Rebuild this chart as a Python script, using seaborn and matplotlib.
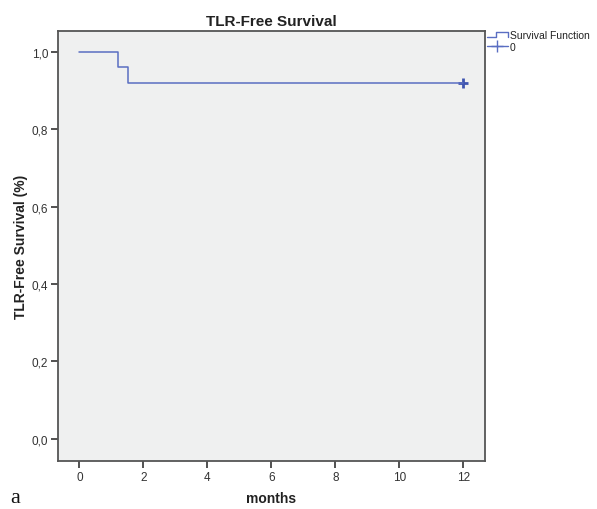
import matplotlib
matplotlib.use("Agg")
import matplotlib.pyplot as plt
import seaborn as sns
import pandas as pd
from matplotlib.lines import Line2D
from matplotlib.legend_handler import HandlerBase
from matplotlib.ticker import FuncFormatter

# data
months = [0.0, 1.22, 1.51, 12.0]
survival = [1.0, 0.96, 0.92, 0.92]
censor_months = [12.0]
censor_survival = [0.92]
x_ticks = [0, 2, 4, 6, 8, 10, 12]
y_ticks = [0.0, 0.2, 0.4, 0.6, 0.8, 1.0]

sns.set_theme(style="white")
plt.rcParams['font.family'] = ['Liberation Sans', 'DejaVu Sans']

line_color = "#5A6EC2"
fig = plt.figure(figsize=(5.97, 5.10), dpi=100)
ax = fig.add_axes([58/597, 48/510, 427/597, 430/510])
ax.set_facecolor("#EFF0F0")

df = pd.DataFrame({"months": months, "survival": survival})
sns.lineplot(data=df, x="months", y="survival", ax=ax, color=line_color,
             drawstyle="steps-post", linewidth=1.1, legend=False)
cdf = pd.DataFrame({"months": censor_months, "survival": censor_survival})
sns.scatterplot(data=cdf, x="months", y="survival", ax=ax, marker="+",
                color="#3F55B0", s=55, linewidth=2.0, legend=False)

ax.set_xlim(-0.67, 12.68)
ax.set_ylim(-0.058, 1.054)
ax.set_xticks(x_ticks)
ax.set_yticks(y_ticks)
ax.yaxis.set_major_formatter(FuncFormatter(lambda v, p: f"{v:.1f}".replace(".", ",")))
ax.tick_params(axis="both", direction="out", length=5, width=1.2, color="#333333",
               labelsize=8.5, labelcolor="#333333", bottom=True, left=True, pad=2)
for sp in ax.spines.values():
    sp.set_color("#555555")
    sp.set_linewidth(1.3)

ax.set_xlabel("months", fontsize=10, fontweight="bold", color="#222222", labelpad=6)
ax.set_ylabel("TLR-Free Survival (%)", fontsize=10, fontweight="bold", color="#222222", labelpad=3)
ax.set_title("TLR-Free Survival", fontsize=11, fontweight="bold", color="#222222", pad=4)


class StepHandler(HandlerBase):
    def create_artists(self, legend, orig_handle, xdescent, ydescent, width, height, fontsize, trans):
        x0, x1 = -xdescent, -xdescent + width
        xm = x0 + width * 0.45
        y_lo = -ydescent + height * 0.2
        y_hi = -ydescent + height * 0.8
        l = Line2D([x0, xm, xm, x1, x1], [y_lo, y_lo, y_hi, y_hi, y_lo],
                   color=orig_handle.get_color(), linewidth=1.0, transform=trans)
        return [l]


h1 = Line2D([], [], color=line_color, linewidth=1.0)
h2 = Line2D([], [], color=line_color, linewidth=1.0, marker="+", markersize=8)
leg = fig.legend([h1, h2], ["Survival Function", "0"], loc="upper left",
                 bbox_to_anchor=(487/597, 1 - 31/510), frameon=False, fontsize=7.5,
                 handlelength=2.0, handletextpad=0.2, labelspacing=0.15,
                 borderaxespad=0, borderpad=0,
                 handler_map={h1: StepHandler()})
for t in leg.get_texts():
    t.set_color("#222222")

fig.text(10/597, 1 - 499/510, "a", fontsize=16, family="Liberation Serif",
         va="center", ha="left", color="#111111")

fig.savefig("out.png", dpi=100, facecolor="white")
